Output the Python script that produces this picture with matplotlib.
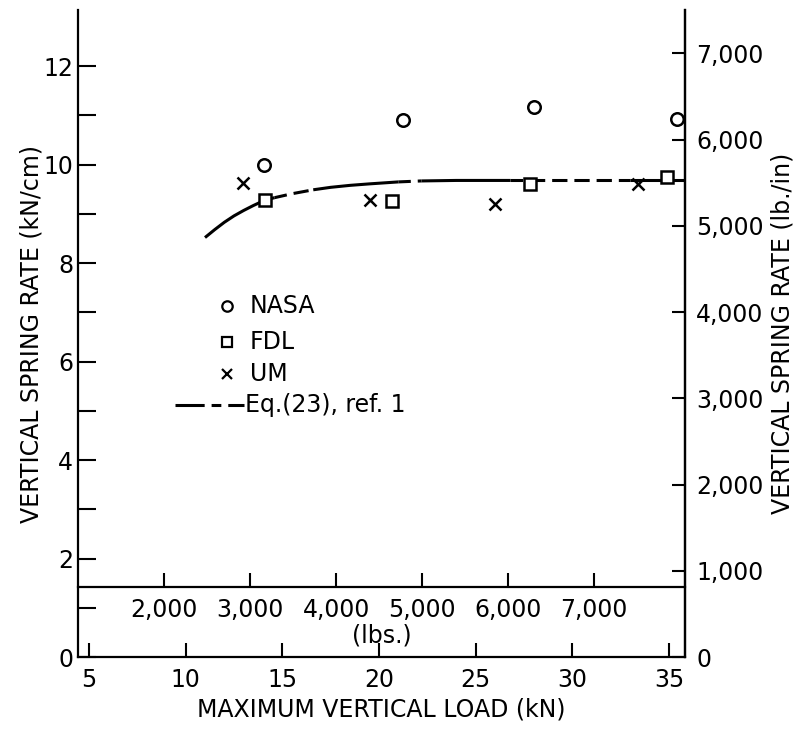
import matplotlib
matplotlib.use("Agg")
import matplotlib.pyplot as plt
from matplotlib.ticker import FuncFormatter

plt.rcParams["font.family"] = "DejaVu Sans"
plt.rcParams["font.size"] = 17
plt.rcParams["lines.scale_dashes"] = False

nasa_load = [14.05, 21.26, 28.03, 35.43]
nasa_rate = [9.99, 10.90, 11.17, 10.92]
fdl_load = [14.10, 20.66, 27.81, 34.91]
fdl_rate = [9.28, 9.26, 9.60, 9.74]
um_load = [12.95, 19.53, 26.02, 33.41]
um_rate = [9.63, 9.29, 9.21, 9.60]

# Eq. (23), ref. 1 curve
eq_load = [11.0, 11.5, 12.0, 12.5, 13.0, 13.5, 14.1, 14.6, 15.5, 16.6,
           17.5, 18.5, 19.5, 21.0, 22.2, 24.0, 26.8, 30.0, 33.0, 35.8]
eq_rate = [8.52, 8.68, 8.83, 8.96, 9.07, 9.17, 9.28, 9.33, 9.41, 9.49,
           9.54, 9.58, 9.61, 9.65, 9.67, 9.68, 9.68, 9.68, 9.68, 9.68]
# which stretches of the curve are drawn solid / dashed (index ranges)
solid_parts = [(0, 7), (9, 13), (14, 16), (18, 19)]
dashed_parts = [(7, 9), (13, 14), (16, 18)]

left_ticks = [0, 2, 4, 6, 8, 10, 12]
left_minor = [1, 3, 5, 7, 9, 11]
right_ticks = [0, 1000, 2000, 3000, 4000, 5000, 6000, 7000]
load_ticks = [5, 10, 15, 20, 25, 30, 35]
lbs_ticks = [2000, 3000, 4000, 5000, 6000, 7000]

KN_PER_LB = 0.0044482216
LBIN_PER_KNCM = 571.015
LBS_LINE = 1.42  # height (kN/cm) of the lbs scale line
YMAX = 13.14

fig = plt.figure(figsize=(8.04, 7.31), dpi=100)
ax = fig.add_axes([0.097, 0.1012, 0.755, 0.885])
ax.set_xlim(4.43, 35.83)
ax.set_ylim(0, YMAX)

# data points
mk = dict(linestyle="none", color="black", markerfacecolor="white",
          markeredgewidth=1.8, clip_on=False, zorder=4)
ax.plot(nasa_load, nasa_rate, marker="o", markersize=9, **mk)
ax.plot(fdl_load, fdl_rate, marker="s", markersize=8.5, **mk)
ax.plot(um_load, um_rate, marker="x", markersize=8, **mk)

# the curve, solid in some places and dashed in others
for a, b in solid_parts:
    ax.plot(eq_load[a:b + 1], eq_rate[a:b + 1], color="black", lw=2.2,
            solid_capstyle="butt", zorder=3)
for a, b in dashed_parts:
    ax.plot(eq_load[a:b + 1], eq_rate[a:b + 1], color="black", lw=2.2,
            linestyle=(2, (11, 5)), zorder=3)

# hand made legend
tr = ax.transAxes
lmk = dict(color="black", markerfacecolor="white", markeredgewidth=1.6,
           transform=tr, clip_on=False)
ax.plot([0.2455], [0.5425], marker="o", markersize=7.5, **lmk)
ax.plot([0.2455], [0.4869], marker="s", markersize=7, **lmk)
ax.plot([0.2455], [0.4374], marker="x", markersize=7, **lmk)
ax.plot([0.160, 0.273], [0.3895, 0.3895], color="black", lw=2.2,
        linestyle=(0, (21, 5, 7, 5, 14, 50)), transform=tr)
for txt, yy in [("NASA", 0.5425), ("FDL", 0.4869), ("UM", 0.4374),
                ("Eq.(23), ref. 1", 0.3895)]:
    xx = 0.283 if txt != "Eq.(23), ref. 1" else 0.275
    ax.text(xx, yy, txt, transform=tr, ha="left", va="center", fontsize=17)

# spines
for s in ["left", "right", "bottom"]:
    ax.spines[s].set_linewidth(1.6)
ax.spines["top"].set_visible(False)

# left / bottom axes
ax.set_yticks(left_ticks)
ax.set_yticks(left_minor, minor=True)
ax.set_xticks(load_ticks)
ax.tick_params(axis="y", which="both", direction="in", length=13, width=1.5,
               pad=3.5)
ax.tick_params(axis="x", direction="in", length=10, width=1.5, pad=8)
ax.set_ylabel("VERTICAL SPRING RATE (kN/cm)", labelpad=0)
ax.set_xlabel("MAXIMUM VERTICAL LOAD (kN)", labelpad=4)

comma = FuncFormatter(lambda v, p: f"{v:,.0f}")

# right axis in lb./in
ry = ax.secondary_yaxis("right", functions=(lambda k: k * LBIN_PER_KNCM,
                                            lambda l: l / LBIN_PER_KNCM))
ry.set_yticks(right_ticks)
ry.yaxis.set_major_formatter(comma)
ry.tick_params(direction="in", length=9.5, width=1.5, pad=8)
ry.spines["right"].set_linewidth(1.6)
ry.set_ylabel("VERTICAL SPRING RATE (lb./in)", labelpad=5)

# lbs scale drawn inside the plot
lx = ax.secondary_xaxis(LBS_LINE / YMAX,
                        functions=(lambda k: k / KN_PER_LB,
                                   lambda l: l * KN_PER_LB))
lx.set_xticks(lbs_ticks)
lx.xaxis.set_major_formatter(comma)
lx.tick_params(direction="in", length=10, width=1.5, pad=8)
lx.spines["bottom"].set_linewidth(1.6)
lx.set_xlabel("(lbs.)", labelpad=1)

fig.savefig("out.png", dpi=100)
